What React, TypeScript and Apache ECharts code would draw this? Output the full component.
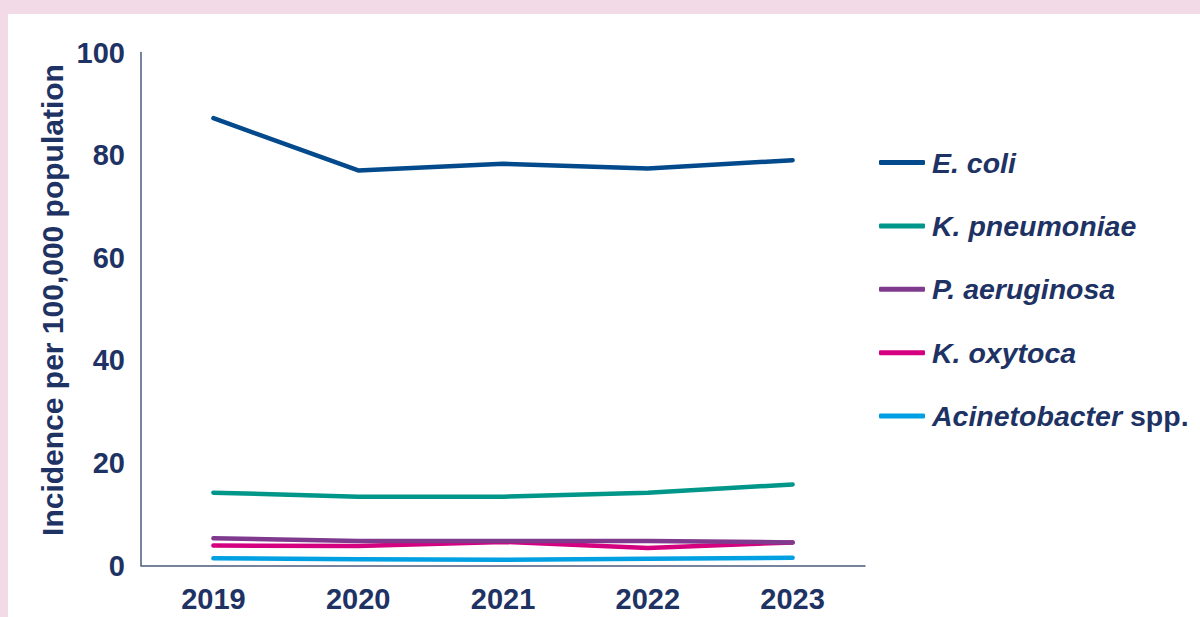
import React, { useEffect, useRef } from "react";
import * as echarts from "echarts";

const years = ["2019", "2020", "2021", "2022", "2023"];
const eColi = [87.2, 77.0, 78.3, 77.4, 79.0];
const kPneumoniae = [14.2, 13.4, 13.4, 14.2, 15.8];
const pAeruginosa = [5.3, 4.8, 4.8, 4.8, 4.5];
const kOxytoca = [3.9, 3.8, 4.6, 3.4, 4.5];
const acinetobacter = [1.4, 1.2, 1.1, 1.3, 1.5];

const seriesNames = ["E. coli", "K. pneumoniae", "P. aeruginosa", "K. oxytoca", "Acinetobacter spp."];
const seriesColors = ["#024a8c", "#00968a", "#7f3a8d", "#d5007f", "#00a0e2"];
const seriesData = [eColi, kPneumoniae, pAeruginosa, kOxytoca, acinetobacter];

const yTicks = { min: 0, max: 100, interval: 20 };
const yTitle = "Incidence per 100,000 population";

const TEXT = "#1e3264";
const AXIS = "#4b5a7e";
const FONT = "'Liberation Sans', Arial, Helvetica, sans-serif";

export default function App() {
  const ref = useRef<HTMLDivElement>(null);
  useEffect(() => {
    if (!ref.current) return;
    const chart = echarts.init(ref.current, null, { renderer: "svg" });
    chart.setOption({
      animation: false,
      backgroundColor: "transparent",
      textStyle: { fontFamily: FONT },
      grid: { left: 141, right: 335, top: 52.5, bottom: 51.5, containLabel: false },
      graphic: [
        {
          type: "text",
          x: 52,
          y: 300,
          rotation: Math.PI / 2,
          style: {
            text: yTitle,
            fill: TEXT,
            font: "bold 30px " + FONT,
            align: "center",
            verticalAlign: "middle",
          },
        },
      ],
      legend: {
        orient: "vertical",
        left: 874,
        top: 143,
        icon: "roundRect",
        itemWidth: 46,
        itemHeight: 5,
        itemGap: 34.4,
        data: seriesNames,
        formatter: (name: string) => {
          if (name.endsWith(" spp.")) {
            return "{i|" + name.replace(" spp.", "") + "}{n| spp.}";
          }
          return "{i|" + name + "}";
        },
        textStyle: {
          color: TEXT,
          fontSize: 28.5,
          fontWeight: "bold",
          fontFamily: FONT,
          rich: {
            i: { color: TEXT, fontSize: 28.5, fontWeight: "bold", fontStyle: "italic", fontFamily: FONT, lineHeight: 28, padding: [0, 0, 0, 2] },
            n: { color: TEXT, fontSize: 28.5, fontWeight: "bold", fontFamily: FONT, lineHeight: 28 },
          },
        },
      },
      xAxis: {
        type: "category",
        data: years,
        boundaryGap: true,
        axisTick: { show: false },
        axisLine: { show: true, lineStyle: { color: AXIS, width: 1.5 } },
        axisLabel: { color: TEXT, fontSize: 29, fontWeight: "bold", margin: 19, fontFamily: FONT },
        splitLine: { show: false },
      },
      yAxis: {
        type: "value",
        min: yTicks.min,
        max: yTicks.max,
        interval: yTicks.interval,
        axisLine: { show: true, lineStyle: { color: AXIS, width: 1.5 } },
        axisTick: { show: false },
        splitLine: { show: false },
        axisLabel: { color: TEXT, fontSize: 29, margin: 16, fontFamily: FONT, fontWeight: "bold" },
      },
      series: seriesNames.map((name, i) => ({
        name,
        type: "line",
        data: seriesData[i],
        symbol: "none",
        smooth: false,
        lineStyle: { color: seriesColors[i], width: 4.5, cap: "round", join: "round" },
        itemStyle: { color: seriesColors[i] },
        z: 10 - i,
      })),
    });
    return () => chart.dispose();
  }, []);

  return (
    <div style={{ position: "fixed", left: 0, top: 0, width: 1200, height: 617, background: "#f2dbe6", overflow: "hidden" }}>
      <div style={{ position: "absolute", left: 8, top: 14, right: 0, bottom: 0, background: "#ffffff" }} />
      <div ref={ref} style={{ position: "absolute", left: 0, top: 0, width: 1200, height: 617 }} />
    </div>
  );
}
